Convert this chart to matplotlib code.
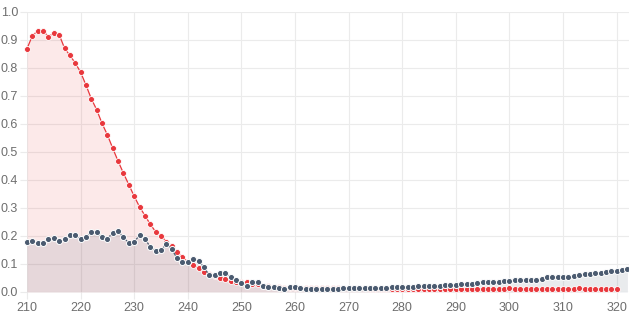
import numpy as np
import matplotlib
matplotlib.use("Agg")
import matplotlib.pyplot as plt

# wavelength (nm) and the two absorbance series
x_red = list(range(210, 321))
x_blue = list(range(210, 323))

red = [0.869, 0.915, 0.933, 0.933, 0.912, 0.925, 0.919, 0.871, 0.845, 0.818,
       0.785, 0.739, 0.690, 0.651, 0.602, 0.561, 0.513, 0.467, 0.424, 0.383,
       0.342, 0.304, 0.273, 0.242, 0.215, 0.201, 0.180, 0.165, 0.142, 0.124,
       0.108, 0.095, 0.086, 0.073, 0.063, 0.057, 0.050, 0.045, 0.040, 0.035,
       0.034, 0.034, 0.029, 0.027, 0.022, 0.020, 0.018, 0.017, 0.016, 0.016,
       0.015, 0.015, 0.014, 0.014, 0.013, 0.013, 0.013, 0.013, 0.013, 0.013,
       0.013, 0.013, 0.013, 0.013, 0.012, 0.012, 0.012, 0.012, 0.012, 0.012,
       0.012, 0.012, 0.012, 0.012, 0.012, 0.012, 0.012, 0.012, 0.012, 0.012,
       0.012, 0.011, 0.012, 0.012, 0.012, 0.012, 0.012, 0.012, 0.012, 0.012,
       0.013, 0.012, 0.012, 0.012, 0.012, 0.012, 0.012, 0.012, 0.012, 0.012,
       0.012, 0.012, 0.012, 0.013, 0.012, 0.012, 0.012, 0.012, 0.011, 0.011,
       0.011]

blue = [0.179, 0.183, 0.175, 0.176, 0.190, 0.192, 0.182, 0.189, 0.204, 0.203,
        0.189, 0.195, 0.215, 0.213, 0.196, 0.190, 0.212, 0.218, 0.195, 0.175,
        0.180, 0.202, 0.190, 0.161, 0.148, 0.149, 0.173, 0.154, 0.120, 0.106,
        0.106, 0.118, 0.112, 0.089, 0.060, 0.062, 0.067, 0.067, 0.055, 0.044,
        0.032, 0.020, 0.037, 0.036, 0.021, 0.019, 0.019, 0.014, 0.012, 0.018,
        0.017, 0.013, 0.012, 0.011, 0.011, 0.011, 0.012, 0.012, 0.012, 0.013,
        0.013, 0.013, 0.014, 0.014, 0.015, 0.015, 0.016, 0.016, 0.017, 0.017,
        0.018, 0.019, 0.019, 0.020, 0.021, 0.021, 0.022, 0.023, 0.024, 0.025,
        0.026, 0.027, 0.029, 0.030, 0.033, 0.035, 0.035, 0.036, 0.037, 0.038,
        0.040, 0.042, 0.044, 0.043, 0.043, 0.044, 0.046, 0.052, 0.054, 0.052,
        0.052, 0.052, 0.058, 0.062, 0.063, 0.064, 0.067, 0.069, 0.070, 0.074,
        0.075, 0.079, 0.082]

x_ticks = list(range(210, 321, 10))
y_ticks = [round(v * 0.1, 1) for v in range(11)]

RED = "#e8383d"
BLUE = "#4b5b70"

plt.rcParams["font.family"] = ["Liberation Sans", "DejaVu Sans"]

fig = plt.figure(figsize=(6.29, 3.14), dpi=100)
ax = fig.add_axes([27 / 629, 22 / 314, 602 / 629, 280 / 314])

ax.fill_between(x_red, red, 0, color=RED, alpha=0.11, linewidth=0, zorder=1)
ax.fill_between(x_blue, blue, 0, color=BLUE, alpha=0.12, linewidth=0, zorder=1)

ax.plot(x_red, red, color=RED, lw=0.9, marker="o", ms=4.3, mfc=RED,
        mec="white", mew=0.6, zorder=3, clip_on=False)
ax.plot(x_blue, blue, color=BLUE, lw=0.9, marker="o", ms=4.4, mfc=BLUE,
        mec="white", mew=0.7, zorder=4, clip_on=False)

ax.set_xlim(210, 322.3)
ax.set_ylim(0, 1.0)
ax.set_xticks(x_ticks)
ax.set_yticks(y_ticks)
ax.set_yticklabels([f"{v:.1f}" for v in y_ticks])

ax.grid(True, color="#ebebeb", lw=0.8, zorder=0)
ax.set_axisbelow(True)
for s in ax.spines.values():
    s.set_visible(False)
ax.tick_params(axis="both", colors="#ebebeb", labelcolor="#6e6e6e",
               labelsize=9, length=5, width=0.8)
ax.tick_params(axis="x", pad=2.5)
ax.tick_params(axis="y", pad=1.5)

fig.savefig("out.png", dpi=100)
